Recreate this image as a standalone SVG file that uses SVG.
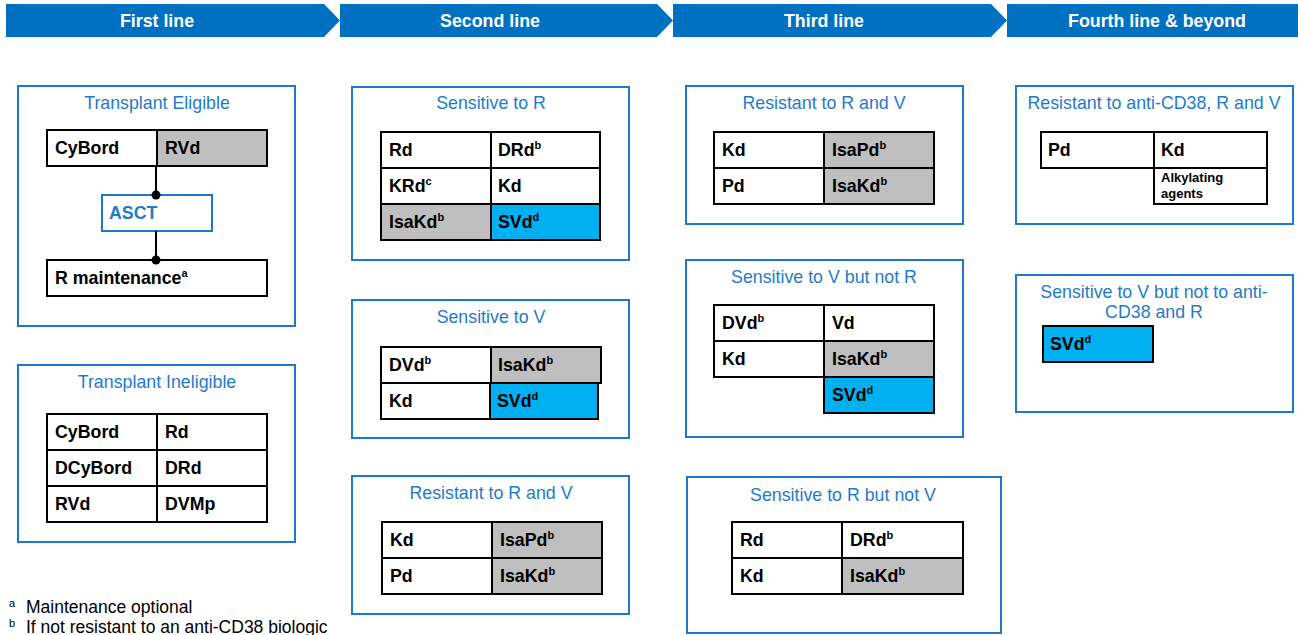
<svg xmlns="http://www.w3.org/2000/svg" width="1298" height="635" viewBox="0 0 1298 635">
  <style>
    .band { fill: #0070C0; }
    .band-t { font: bold 17.8px "Liberation Sans", Arial, sans-serif; fill: #fff; text-anchor: middle; }
    .panel { fill: #fff; stroke: #1F78C8; stroke-width: 2; }
    .ptitle { font: 17.8px "Liberation Sans", Arial, sans-serif; fill: #1F7BC8; text-anchor: middle; }
    .cell { fill: #fff; stroke: #000; stroke-width: 2; }
    .grey { fill: #BFBFBF; }
    .cyan { fill: #00B0F0; }
    .ct { font: bold 17.8px "Liberation Sans", Arial, sans-serif; fill: #000; }
    .small { font: bold 13px "Liberation Sans", Arial, sans-serif; fill: #000; }
    .sup { font-size: 11px; }
    .asct { fill: #fff; stroke: #1F78C8; stroke-width: 2; }
    .asct-t { font: bold 17.8px "Liberation Sans", Arial, sans-serif; fill: #1F7BC8; }
    .link { stroke: #000; stroke-width: 2; fill: none; }
    .note { font: 17.5px "Liberation Sans", Arial, sans-serif; fill: #000; }
  </style>

  <!-- header chevrons -->
  <g id="header">
    <polygon class="band" points="6,4 324,4 340,20.5 324,37 6,37"/>
    <polygon class="band" points="340,4 657,4 673,20.5 657,37 340,37"/>
    <polygon class="band" points="673,4 991,4 1007,20.5 991,37 673,37"/>
    <rect class="band" x="1007" y="4" width="291" height="33"/>
    <text class="band-t" x="157" y="27">First line</text>
    <text class="band-t" x="490" y="27">Second line</text>
    <text class="band-t" x="824" y="27">Third line</text>
    <text class="band-t" x="1157" y="27">Fourth line &amp; beyond</text>
  </g>

  <!-- first line: transplant eligible -->
  <g id="transplant-eligible">
    <rect class="panel" x="18" y="86" width="277" height="240"/>
    <text class="ptitle" x="157" y="109">Transplant Eligible</text>
    <rect class="cell" x="47" y="130" width="110" height="36"/>
    <rect class="cell grey" x="157" y="130" width="110" height="36"/>
    <text class="ct" x="55" y="154">CyBord</text>
    <text class="ct" x="165" y="154">RVd</text>
  </g>
  <g id="asct">
    <rect class="asct" x="102" y="195" width="110" height="36"/>
    <text class="asct-t" x="109" y="219">ASCT</text>
  </g>
  <g id="r-maintenance">
    <rect class="cell" x="47" y="260" width="220" height="36"/>
    <text class="ct" x="55" y="284">R maintenance<tspan class="sup" dy="-7">a</tspan></text>
  </g>
  <g id="connectors">
    <line class="link" x1="156" y1="166" x2="156" y2="195"/>
    <circle cx="156" cy="195" r="4.5" fill="#000"/>
    <line class="link" x1="156" y1="231" x2="156" y2="260"/>
    <circle cx="156" cy="260" r="4.5" fill="#000"/>
  </g>

  <!-- first line: transplant ineligible -->
  <g id="transplant-ineligible">
    <rect class="panel" x="18" y="365" width="277" height="177"/>
    <text class="ptitle" x="157" y="388">Transplant Ineligible</text>
    <rect class="cell" x="47" y="414" width="110" height="36"/>
    <rect class="cell" x="157" y="414" width="110" height="36"/>
    <rect class="cell" x="47" y="450" width="110" height="36"/>
    <rect class="cell" x="157" y="450" width="110" height="36"/>
    <rect class="cell" x="47" y="486" width="110" height="36"/>
    <rect class="cell" x="157" y="486" width="110" height="36"/>
    <text class="ct" x="55" y="438">CyBord</text>
    <text class="ct" x="165" y="438">Rd</text>
    <text class="ct" x="55" y="474">DCyBord</text>
    <text class="ct" x="165" y="474">DRd</text>
    <text class="ct" x="55" y="510">RVd</text>
    <text class="ct" x="165" y="510">DVMp</text>
  </g>

  <!-- second line -->
  <g id="second-sensitive-r">
    <rect class="panel" x="352" y="87" width="277" height="173"/>
    <text class="ptitle" x="491" y="109">Sensitive to R</text>
    <rect class="cell" x="381" y="132" width="110" height="36"/>
    <rect class="cell" x="491" y="132" width="109" height="36"/>
    <rect class="cell" x="381" y="168" width="110" height="36"/>
    <rect class="cell" x="491" y="168" width="109" height="36"/>
    <rect class="cell grey" x="381" y="204" width="110" height="36"/>
    <rect class="cell cyan" x="491" y="204" width="109" height="36"/>
    <text class="ct" x="389" y="156">Rd</text>
    <text class="ct" x="498" y="156">DRd<tspan class="sup" dy="-7">b</tspan></text>
    <text class="ct" x="389" y="192">KRd<tspan class="sup" dy="-7">c</tspan></text>
    <text class="ct" x="498" y="192">Kd</text>
    <text class="ct" x="389" y="228">IsaKd<tspan class="sup" dy="-7">b</tspan></text>
    <text class="ct" x="498" y="228">SVd<tspan class="sup" dy="-7">d</tspan></text>
  </g>

  <g id="second-sensitive-v">
    <rect class="panel" x="352" y="300" width="277" height="138"/>
    <text class="ptitle" x="491" y="323">Sensitive to V</text>
    <rect class="cell" x="381" y="347" width="110" height="36"/>
    <rect class="cell grey" x="491" y="347" width="110" height="36"/>
    <rect class="cell" x="381" y="383" width="109" height="36"/>
    <rect class="cell cyan" x="490" y="383" width="108" height="36"/>
    <text class="ct" x="389" y="371">DVd<tspan class="sup" dy="-7">b</tspan></text>
    <text class="ct" x="498" y="371">IsaKd<tspan class="sup" dy="-7">b</tspan></text>
    <text class="ct" x="389" y="407">Kd</text>
    <text class="ct" x="497" y="407">SVd<tspan class="sup" dy="-7">d</tspan></text>
  </g>

  <g id="second-resistant-rv">
    <rect class="panel" x="352" y="476" width="277" height="138"/>
    <text class="ptitle" x="491" y="499">Resistant to R and V</text>
    <rect class="cell" x="382" y="522" width="110" height="36"/>
    <rect class="cell grey" x="492" y="522" width="110" height="36"/>
    <rect class="cell" x="382" y="558" width="110" height="36"/>
    <rect class="cell grey" x="492" y="558" width="110" height="36"/>
    <text class="ct" x="390" y="546">Kd</text>
    <text class="ct" x="500" y="546">IsaPd<tspan class="sup" dy="-7">b</tspan></text>
    <text class="ct" x="390" y="582">Pd</text>
    <text class="ct" x="500" y="582">IsaKd<tspan class="sup" dy="-7">b</tspan></text>
  </g>

  <!-- third line -->
  <g id="third-resistant-rv">
    <rect class="panel" x="686" y="86" width="277" height="138"/>
    <text class="ptitle" x="824" y="109">Resistant to R and V</text>
    <rect class="cell" x="714" y="132" width="110" height="36"/>
    <rect class="cell grey" x="824" y="132" width="110" height="36"/>
    <rect class="cell" x="714" y="168" width="110" height="36"/>
    <rect class="cell grey" x="824" y="168" width="110" height="36"/>
    <text class="ct" x="722" y="156">Kd</text>
    <text class="ct" x="832" y="156">IsaPd<tspan class="sup" dy="-7">b</tspan></text>
    <text class="ct" x="722" y="192">Pd</text>
    <text class="ct" x="832" y="192">IsaKd<tspan class="sup" dy="-7">b</tspan></text>
  </g>

  <g id="third-sensitive-v-not-r">
    <rect class="panel" x="686" y="260" width="277" height="177"/>
    <text class="ptitle" x="824" y="283">Sensitive to V but not R</text>
    <rect class="cell" x="714" y="305" width="110" height="36"/>
    <rect class="cell" x="824" y="305" width="110" height="36"/>
    <rect class="cell" x="714" y="341" width="110" height="36"/>
    <rect class="cell grey" x="824" y="341" width="110" height="36"/>
    <rect class="cell cyan" x="824" y="377" width="110" height="36"/>
    <text class="ct" x="722" y="329">DVd<tspan class="sup" dy="-7">b</tspan></text>
    <text class="ct" x="832" y="329">Vd</text>
    <text class="ct" x="722" y="365">Kd</text>
    <text class="ct" x="832" y="365">IsaKd<tspan class="sup" dy="-7">b</tspan></text>
    <text class="ct" x="832" y="401">SVd<tspan class="sup" dy="-7">d</tspan></text>
  </g>

  <g id="third-sensitive-r-not-v">
    <rect class="panel" x="687" y="477" width="314" height="156"/>
    <text class="ptitle" x="843" y="501">Sensitive to R but not V</text>
    <rect class="cell" x="732" y="522" width="110" height="36"/>
    <rect class="cell" x="842" y="522" width="121" height="36"/>
    <rect class="cell" x="732" y="558" width="110" height="36"/>
    <rect class="cell grey" x="842" y="558" width="121" height="36"/>
    <text class="ct" x="740" y="546">Rd</text>
    <text class="ct" x="850" y="546">DRd<tspan class="sup" dy="-7">b</tspan></text>
    <text class="ct" x="740" y="582">Kd</text>
    <text class="ct" x="850" y="582">IsaKd<tspan class="sup" dy="-7">b</tspan></text>
  </g>

  <!-- fourth line and beyond -->
  <g id="fourth-resistant-cd38-rv">
    <rect class="panel" x="1016" y="86" width="277" height="138"/>
    <text class="ptitle" x="1154" y="109">Resistant to anti-CD38, R and V</text>
    <rect class="cell" x="1041" y="132" width="113" height="36"/>
    <rect class="cell" x="1154" y="132" width="113" height="36"/>
    <rect class="cell" x="1154" y="168" width="113" height="36"/>
    <text class="ct" x="1048" y="156">Pd</text>
    <text class="ct" x="1161" y="156">Kd</text>
    <text class="small" x="1161" y="182">Alkylating</text>
    <text class="small" x="1161" y="198">agents</text>
  </g>

  <g id="fourth-sensitive-v-not-cd38-r">
    <rect class="panel" x="1016" y="275" width="277" height="137"/>
    <text class="ptitle" x="1154" y="298">Sensitive to V but not to anti-</text>
    <text class="ptitle" x="1154" y="318">CD38 and R</text>
    <rect class="cell cyan" x="1043" y="326" width="110" height="36"/>
    <text class="ct" x="1050" y="350">SVd<tspan class="sup" dy="-7">d</tspan></text>
  </g>

  <!-- footnotes -->
  <g id="footnotes">
    <text class="note" x="9" y="607"><tspan class="sup">a</tspan></text>
    <text class="note" x="26" y="613">Maintenance optional</text>
    <text class="note" x="9" y="627"><tspan class="sup">b</tspan></text>
    <text class="note" x="26" y="633">If not resistant to an anti-CD38 biologic</text>
  </g>
</svg>
